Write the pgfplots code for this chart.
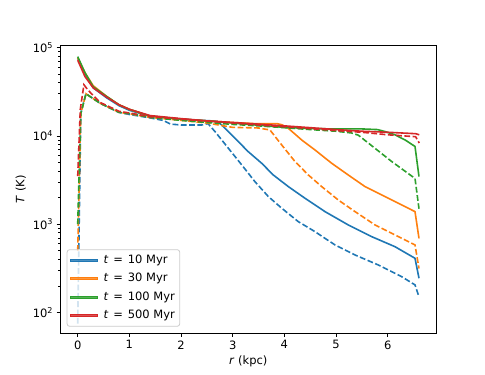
\documentclass[border=0pt]{standalone}
\usepackage{pgfplots}
\pgfplotsset{compat=1.18}
\usepackage{fontspec}
\setmainfont{DejaVu Sans}
\definecolor{mplblue}{HTML}{1F77B4}
\definecolor{mplorange}{HTML}{FF7F0E}
\definecolor{mplgreen}{HTML}{2CA02C}
\definecolor{mplred}{HTML}{D62728}
\newcommand{\leg}[1]{\textit{t}\hspace{0.42em}=\hspace{0.42em}#1 Myr}
\pgfplotsset{
  sl/.style={line width=1.6pt, line join=round, forget plot},
  dl/.style={line width=1.6pt, dash pattern=on 5.8pt off 2.5pt, forget plot},
}
\begin{document}
\begin{tikzpicture}
\path (-60.3pt,-41.7pt) rectangle (424.7pt,333.3pt);
\begin{axis}[
  at={(0,0)}, anchor=south west,
  width=376pt, height=288.3pt, scale only axis,
  xmin=-0.337, xmax=6.94,
  ymode=log, ymin=58.3, ymax=1.07e5,
  xtick={0,1,2,3,4,5,6},
  ytick={100,1000,10000,100000},
  yticklabels={10\textsuperscript{2},10\textsuperscript{3},10\textsuperscript{4},10\textsuperscript{5}},
  minor x tick num=0,
  tick align=outside,
  xtick pos=left, ytick pos=left,
  major tick length=3.7pt, minor tick length=2.1pt,
  every tick/.style={line width=0.84pt, black},
  axis line style={line width=0.84pt},
  /pgf/number format/assume math mode=true,
  ticklabel style={font=\fontsize{11.5}{13}\selectfont},
  label style={font=\fontsize{11.5}{13}\selectfont},
  xlabel={\textit{r} (kpc)},
  ylabel={\textit{T} (K)},
  legend style={at={(0,0)}, anchor=south west, xshift=6.4pt, yshift=6.6pt,
    draw=black!20, line width=0.8pt, rounded corners=2.5pt, fill=white, fill opacity=0.8, text opacity=1,
    font=\fontsize{11.5}{13}\selectfont, inner xsep=3pt, inner ysep=3.5pt, row sep=4pt,
    nodes={text height=8.4pt, text depth=2.4pt, inner sep=1.8pt},
    /tikz/every odd column/.append style={column sep=4pt}},
  legend cell align=left,
  legend image code/.code={\fill[sharp corners] (0pt,-0.9pt) rectangle (27pt,0.9pt);},
]
\addlegendimage{mplblue}
\addlegendentry{\leg{10}}
\addlegendimage{mplorange}
\addlegendentry{\leg{30}}
\addlegendimage{mplgreen}
\addlegendentry{\leg{100}}
\addlegendimage{mplred}
\addlegendentry{\leg{500}}
% t = 10 Myr
\addplot[mplblue,sl] coordinates {(0,7.6e4) (0.14,5.0e4) (0.3,3.5e4) (0.56,2.7e4) (0.8,2.2e4) (1.0,1.95e4) (1.4,1.67e4) (2.0,1.55e4) (2.4,1.5e4) (2.6,1.48e4) (2.7,1.46e4) (2.787,1.33e4) (2.9,1.14e4) (3.044,9.4e3) (3.30,6.64e3) (3.561,4.9e3) (3.786,3.61e3) (4.076,2.67e3) (4.399,1.97e3) (4.786,1.39e3) (5.237,982) (5.69,724) (6.141,557) (6.528,412) (6.605,245)};
\addplot[mplblue,dl] coordinates {(0,75) (0.06,1.8e4) (0.16,3.0e4) (0.43,2.35e4) (0.79,1.85e4) (1.0,1.75e4) (1.4,1.6e4) (1.65,1.5e4) (1.8,1.36e4) (2.0,1.33e4) (2.4,1.33e4) (2.52,1.38e4) (2.657,1.12e4) (2.915,7.26e3) (3.174,4.7e3) (3.431,3.03e3) (3.689,2.06e3) (3.948,1.52e3) (4.27,1.07e3) (4.593,824) (4.98,583) (5.367,449) (5.818,346) (6.27,255) (6.528,206) (6.605,151)};
% t = 30 Myr
\addplot[mplorange,sl] coordinates {(0,7.6e4) (0.14,5.2e4) (0.3,3.7e4) (0.56,2.8e4) (0.8,2.25e4) (1.0,2.0e4) (1.4,1.67e4) (2.0,1.55e4) (2.5,1.48e4) (3.0,1.42e4) (3.4,1.38e4) (3.85,1.38e4) (3.95,1.34e4) (4.076,1.22e4) (4.335,9.0e3) (4.593,6.93e3) (4.916,4.9e3) (5.237,3.61e3) (5.56,2.67e3) (5.884,2.15e3) (6.206,1.73e3) (6.528,1.39e3) (6.605,692)};
\addplot[mplorange,dl] coordinates {(0,500) (0.06,1.8e4) (0.16,3.0e4) (0.43,2.35e4) (0.8,1.85e4) (1.0,1.78e4) (1.4,1.62e4) (2.0,1.5e4) (2.5,1.4e4) (3.0,1.25e4) (3.5,1.23e4) (3.6,1.2e4) (3.72,1.17e4) (3.948,7.9e3) (4.206,5.12e3) (4.464,3.61e3) (4.722,2.67e3) (5.044,1.88e3) (5.367,1.39e3) (5.754,982) (6.141,757) (6.528,583) (6.605,316)};
% t = 100 Myr
\addplot[mplgreen,sl] coordinates {(0,7.9e4) (0.14,5.2e4) (0.3,3.6e4) (0.56,2.8e4) (0.8,2.25e4) (1.0,2.0e4) (1.4,1.68e4) (2.0,1.55e4) (2.5,1.48e4) (3.0,1.4e4) (3.5,1.32e4) (4.0,1.25e4) (4.5,1.21e4) (5.0,1.2e4) (5.5,1.2e4) (5.8,1.18e4) (5.95,1.12e4) (6.14,1.03e4) (6.35,8.9e3) (6.528,7.6e3) (6.605,3.47e3)};
\addplot[mplgreen,dl] coordinates {(0,1.0e3) (0.06,1.8e4) (0.16,3.0e4) (0.43,2.35e4) (0.8,1.85e4) (1.0,1.8e4) (1.4,1.62e4) (2.0,1.5e4) (2.5,1.42e4) (3.0,1.35e4) (3.5,1.3e4) (4.0,1.24e4) (4.5,1.18e4) (5.0,1.13e4) (5.3,1.08e4) (5.43,1.02e4) (5.754,7.24e3) (6.077,5.13e3) (6.528,3.3e3) (6.605,1.5e3)};
% t = 500 Myr
\addplot[mplred,sl] coordinates {(0,7.2e4) (0.14,4.7e4) (0.3,3.5e4) (0.56,2.75e4) (0.8,2.25e4) (1.0,2.0e4) (1.4,1.7e4) (2.0,1.57e4) (2.5,1.48e4) (3.0,1.42e4) (3.5,1.36e4) (4.0,1.3e4) (4.5,1.24e4) (5.0,1.18e4) (5.5,1.13e4) (6.0,1.1e4) (6.54,1.06e4) (6.61,1.03e4)};
\addplot[mplred,dl] coordinates {(0,3.5e3) (0.05,2.0e4) (0.12,3.8e4) (0.2,3.3e4) (0.43,2.4e4) (0.8,1.9e4) (1.0,1.82e4) (1.4,1.65e4) (2.0,1.55e4) (2.5,1.47e4) (3.0,1.4e4) (3.5,1.33e4) (4.0,1.27e4) (4.5,1.21e4) (5.0,1.15e4) (5.5,1.1e4) (6.0,1.03e4) (6.54,9.8e3) (6.61,8.3e3)};
\end{axis}
\end{tikzpicture}
\end{document}
